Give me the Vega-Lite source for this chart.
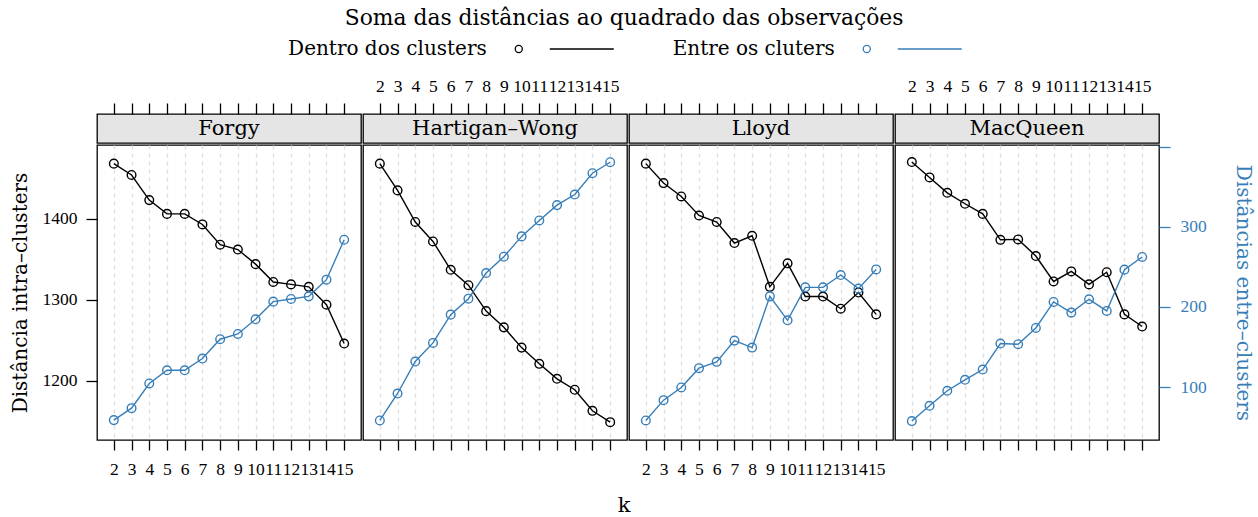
{
  "$schema": "https://vega.github.io/schema/vega-lite/v6.json",
  "padding": {"left": 9, "right": 3, "top": 8, "bottom": 0},
  "config": {
    "font": "DejaVu Serif",
    "view": {"stroke": "black", "strokeWidth": 1.3},
    "axis": {"labelFont": "Liberation Serif", "labelFontSize": 17.5, "titleFont": "DejaVu Serif", "titleFontWeight": "normal", "labelColor": "black", "titleColor": "black", "tickColor": "black"},
    "title": {"font": "DejaVu Serif", "fontWeight": "normal", "fontSize": 21.8, "color": "black"}
  },
  "title": {"text": "Soma das distâncias ao quadrado das observações", "anchor": "middle", "dx": -7},
  "datasets": {
    "km": [
      {"metodo": "Forgy", "k": 2, "intra": 1468, "entre": 58.8},
      {"metodo": "Forgy", "k": 3, "intra": 1454, "entre": 73.7},
      {"metodo": "Forgy", "k": 4, "intra": 1423, "entre": 104.5},
      {"metodo": "Forgy", "k": 5, "intra": 1406, "entre": 121},
      {"metodo": "Forgy", "k": 6, "intra": 1406, "entre": 121},
      {"metodo": "Forgy", "k": 7, "intra": 1393, "entre": 135.6},
      {"metodo": "Forgy", "k": 8, "intra": 1368, "entre": 159.7},
      {"metodo": "Forgy", "k": 9, "intra": 1362, "entre": 166.3},
      {"metodo": "Forgy", "k": 10, "intra": 1344, "entre": 184.6},
      {"metodo": "Forgy", "k": 11, "intra": 1322, "entre": 206.6},
      {"metodo": "Forgy", "k": 12, "intra": 1319, "entre": 209.9},
      {"metodo": "Forgy", "k": 13, "intra": 1316, "entre": 213.2},
      {"metodo": "Forgy", "k": 14, "intra": 1294, "entre": 234},
      {"metodo": "Forgy", "k": 15, "intra": 1246, "entre": 283.8},
      {"metodo": "Hartigan–Wong", "k": 2, "intra": 1468, "entre": 58.4},
      {"metodo": "Hartigan–Wong", "k": 3, "intra": 1435, "entre": 92},
      {"metodo": "Hartigan–Wong", "k": 4, "intra": 1396, "entre": 131.9},
      {"metodo": "Hartigan–Wong", "k": 5, "intra": 1372, "entre": 155.1},
      {"metodo": "Hartigan–Wong", "k": 6, "intra": 1337, "entre": 190.4},
      {"metodo": "Hartigan–Wong", "k": 7, "intra": 1318, "entre": 210.3},
      {"metodo": "Hartigan–Wong", "k": 8, "intra": 1286, "entre": 242.3},
      {"metodo": "Hartigan–Wong", "k": 9, "intra": 1266, "entre": 262.6},
      {"metodo": "Hartigan–Wong", "k": 10, "intra": 1241, "entre": 288},
      {"metodo": "Hartigan–Wong", "k": 11, "intra": 1221, "entre": 307.9},
      {"metodo": "Hartigan–Wong", "k": 12, "intra": 1202.5, "entre": 327},
      {"metodo": "Hartigan–Wong", "k": 13, "intra": 1189, "entre": 340.2},
      {"metodo": "Hartigan–Wong", "k": 14, "intra": 1163, "entre": 366.8},
      {"metodo": "Hartigan–Wong", "k": 15, "intra": 1149, "entre": 380.5},
      {"metodo": "Lloyd", "k": 2, "intra": 1468, "entre": 58.4},
      {"metodo": "Lloyd", "k": 3, "intra": 1444, "entre": 83.7},
      {"metodo": "Lloyd", "k": 4, "intra": 1427.5, "entre": 99.5},
      {"metodo": "Lloyd", "k": 5, "intra": 1404, "entre": 123.6},
      {"metodo": "Lloyd", "k": 6, "intra": 1396, "entre": 131.5},
      {"metodo": "Lloyd", "k": 7, "intra": 1370, "entre": 158},
      {"metodo": "Lloyd", "k": 8, "intra": 1379, "entre": 149.3},
      {"metodo": "Lloyd", "k": 9, "intra": 1316, "entre": 213.2},
      {"metodo": "Lloyd", "k": 10, "intra": 1345, "entre": 183.3},
      {"metodo": "Lloyd", "k": 11, "intra": 1304, "entre": 224.4},
      {"metodo": "Lloyd", "k": 12, "intra": 1304, "entre": 224.4},
      {"metodo": "Lloyd", "k": 13, "intra": 1289, "entre": 239.8},
      {"metodo": "Lloyd", "k": 14, "intra": 1309, "entre": 222.8},
      {"metodo": "Lloyd", "k": 15, "intra": 1282, "entre": 246.8},
      {"metodo": "MacQueen", "k": 2, "intra": 1470, "entre": 57.6},
      {"metodo": "MacQueen", "k": 3, "intra": 1451, "entre": 76.7},
      {"metodo": "MacQueen", "k": 4, "intra": 1432, "entre": 95.4},
      {"metodo": "MacQueen", "k": 5, "intra": 1418.5, "entre": 109.1},
      {"metodo": "MacQueen", "k": 6, "intra": 1406, "entre": 121.9},
      {"metodo": "MacQueen", "k": 7, "intra": 1374, "entre": 154.3},
      {"metodo": "MacQueen", "k": 8, "intra": 1374.5, "entre": 153.5},
      {"metodo": "MacQueen", "k": 9, "intra": 1354, "entre": 173.8},
      {"metodo": "MacQueen", "k": 10, "intra": 1322.6, "entre": 206.2},
      {"metodo": "MacQueen", "k": 11, "intra": 1335, "entre": 192.9},
      {"metodo": "MacQueen", "k": 12, "intra": 1319, "entre": 209.5},
      {"metodo": "MacQueen", "k": 13, "intra": 1334, "entre": 195},
      {"metodo": "MacQueen", "k": 14, "intra": 1282, "entre": 246.5},
      {"metodo": "MacQueen", "k": 15, "intra": 1267, "entre": 262.3}
    ],
    "series": [
      {"serie": "Dentro dos clusters"},
      {"serie": "Entre os cluters"}
    ],
    "eixo": [{"rotulo": "k"}]
  },
  "spacing": 12,
  "vconcat": [
    {
      "width": 1044,
      "height": 30,
      "view": {"stroke": null},
      "data": {"name": "series"},
      "encoding": {
        "x": {"field": "serie", "type": "nominal", "sort": null, "scale": {"type": "point", "padding": 1, "align": 0.606}, "axis": null},
        "color": {"field": "serie", "type": "nominal", "scale": {"domain": ["Dentro dos clusters", "Entre os cluters"], "range": ["black", "#377EB8"]}, "legend": null}
      },
      "layer": [
        {"mark": {"type": "text", "align": "right", "baseline": "middle", "dx": -32, "fontSize": 20, "color": "black"}, "encoding": {"text": {"field": "serie"}, "color": {"value": "black"}}},
        {"mark": {"type": "point", "shape": "circle", "filled": false, "size": 50, "strokeWidth": 1.3, "opacity": 1}},
        {"mark": {"type": "tick", "orient": "horizontal", "size": 64, "thickness": 1.5, "xOffset": 63, "opacity": 1}}
      ]
    },
    {
      "spacing": 0,
      "hconcat": [
        {
          "spacing": 0,
          "vconcat": [
            {
              "width": 264, "height": 29,
              "view": {"fill": "#e5e5e5", "stroke": "black", "strokeWidth": 1.3},
              "data": {"name": "km"},
              "transform": [{"filter": "datum.metodo === 'Forgy'"}],
              "layer": [
                {"mark": {"type": "tick", "opacity": 0}, "encoding": {"x": {"field": "k", "type": "quantitative", "scale": {"domain": [1.05, 15.95]}, "axis": {"orient": "top", "values": [2,3,4,5,6,7,8,9,10,11,12,13,14,15], "labels": false, "tickSize": 11, "tickWidth": 1.3, "domain": false, "grid": false, "title": null}}}},
                {"transform": [{"filter": "datum.k === 2"}], "mark": {"type": "text", "fontSize": 21, "baseline": "middle", "color": "black"}, "encoding": {"text": {"field": "metodo"}}}
              ]
            },
            {
              "width": 264, "height": 295,
              "data": {"name": "km"},
              "transform": [{"filter": "datum.metodo === 'Forgy'"}],
              "encoding": {"x": {"field": "k", "type": "quantitative", "scale": {"domain": [1.05, 15.95]}, "axis": {"orient": "bottom", "values": [2,3,4,5,6,7,8,9,10,11,12,13,14,15], "labelOverlap": false, "labelFlush": false, "labelBound": false, "labelPadding": 10, "tickSize": 10, "tickWidth": 1.3, "domain": false, "grid": true, "gridDash": [4, 4], "gridColor": "#dedede", "gridWidth": 1.3, "title": null}}},
              "layer": [
                {
                  "encoding": {"y": {"field": "intra", "type": "quantitative", "scale": {"domain": [1127, 1491]}, "axis": {"orient": "left", "values": [1200, 1300, 1400], "format": "d", "labelPadding": 9, "tickSize": 11, "tickWidth": 1.3, "domain": false, "grid": false, "title": "Distância intra–clusters", "titleFontSize": 20, "titlePadding": 12}}},
                  "layer": [
                    {"mark": {"type": "line", "color": "black", "strokeWidth": 1.4}},
                    {"mark": {"type": "point", "shape": "circle", "filled": false, "color": "black", "size": 75, "strokeWidth": 1.4, "opacity": 1}}
                  ]
                },
                {
                  "encoding": {"y": {"field": "entre", "type": "quantitative", "scale": {"domain": [34, 402]}, "axis": null}},
                  "layer": [
                    {"mark": {"type": "line", "color": "#377EB8", "strokeWidth": 1.4}},
                    {"mark": {"type": "point", "shape": "circle", "filled": false, "color": "#377EB8", "size": 75, "strokeWidth": 1.4, "opacity": 1}}
                  ]
                }
              ],
              "resolve": {"scale": {"y": "independent"}, "axis": {"y": "independent"}}
            }
          ]
        },
        {
          "spacing": 0,
          "vconcat": [
            {
              "width": 264, "height": 29,
              "view": {"fill": "#e5e5e5", "stroke": "black", "strokeWidth": 1.3},
              "data": {"name": "km"},
              "transform": [{"filter": "datum.metodo === 'Hartigan–Wong'"}],
              "layer": [
                {"mark": {"type": "tick", "opacity": 0}, "encoding": {"x": {"field": "k", "type": "quantitative", "scale": {"domain": [1.05, 15.95]}, "axis": {"orient": "top", "values": [2,3,4,5,6,7,8,9,10,11,12,13,14,15], "labelOverlap": false, "labelFlush": false, "labelBound": false, "labelPadding": 8, "tickSize": 11, "tickWidth": 1.3, "domain": false, "grid": false, "title": null}}}},
                {"transform": [{"filter": "datum.k === 2"}], "mark": {"type": "text", "fontSize": 21, "baseline": "middle", "color": "black"}, "encoding": {"text": {"field": "metodo"}}}
              ]
            },
            {
              "width": 264, "height": 295,
              "data": {"name": "km"},
              "transform": [{"filter": "datum.metodo === 'Hartigan–Wong'"}],
              "encoding": {"x": {"field": "k", "type": "quantitative", "scale": {"domain": [1.05, 15.95]}, "axis": {"orient": "bottom", "values": [2,3,4,5,6,7,8,9,10,11,12,13,14,15], "labels": false, "tickSize": 10, "tickWidth": 1.3, "domain": false, "grid": true, "gridDash": [4, 4], "gridColor": "#dedede", "gridWidth": 1.3, "title": null}}},
              "layer": [
                {
                  "encoding": {"y": {"field": "intra", "type": "quantitative", "scale": {"domain": [1127, 1491]}, "axis": null}},
                  "layer": [
                    {"mark": {"type": "line", "color": "black", "strokeWidth": 1.4}},
                    {"mark": {"type": "point", "shape": "circle", "filled": false, "color": "black", "size": 75, "strokeWidth": 1.4, "opacity": 1}}
                  ]
                },
                {
                  "encoding": {"y": {"field": "entre", "type": "quantitative", "scale": {"domain": [34, 402]}, "axis": null}},
                  "layer": [
                    {"mark": {"type": "line", "color": "#377EB8", "strokeWidth": 1.4}},
                    {"mark": {"type": "point", "shape": "circle", "filled": false, "color": "#377EB8", "size": 75, "strokeWidth": 1.4, "opacity": 1}}
                  ]
                }
              ],
              "resolve": {"scale": {"y": "independent"}, "axis": {"y": "independent"}}
            }
          ]
        },
        {
          "spacing": 0,
          "vconcat": [
            {
              "width": 264, "height": 29,
              "view": {"fill": "#e5e5e5", "stroke": "black", "strokeWidth": 1.3},
              "data": {"name": "km"},
              "transform": [{"filter": "datum.metodo === 'Lloyd'"}],
              "layer": [
                {"mark": {"type": "tick", "opacity": 0}, "encoding": {"x": {"field": "k", "type": "quantitative", "scale": {"domain": [1.05, 15.95]}, "axis": {"orient": "top", "values": [2,3,4,5,6,7,8,9,10,11,12,13,14,15], "labels": false, "tickSize": 11, "tickWidth": 1.3, "domain": false, "grid": false, "title": null}}}},
                {"transform": [{"filter": "datum.k === 2"}], "mark": {"type": "text", "fontSize": 21, "baseline": "middle", "color": "black"}, "encoding": {"text": {"field": "metodo"}}}
              ]
            },
            {
              "width": 264, "height": 295,
              "data": {"name": "km"},
              "transform": [{"filter": "datum.metodo === 'Lloyd'"}],
              "encoding": {"x": {"field": "k", "type": "quantitative", "scale": {"domain": [1.05, 15.95]}, "axis": {"orient": "bottom", "values": [2,3,4,5,6,7,8,9,10,11,12,13,14,15], "labelOverlap": false, "labelFlush": false, "labelBound": false, "labelPadding": 10, "tickSize": 10, "tickWidth": 1.3, "domain": false, "grid": true, "gridDash": [4, 4], "gridColor": "#dedede", "gridWidth": 1.3, "title": null}}},
              "layer": [
                {
                  "encoding": {"y": {"field": "intra", "type": "quantitative", "scale": {"domain": [1127, 1491]}, "axis": null}},
                  "layer": [
                    {"mark": {"type": "line", "color": "black", "strokeWidth": 1.4}},
                    {"mark": {"type": "point", "shape": "circle", "filled": false, "color": "black", "size": 75, "strokeWidth": 1.4, "opacity": 1}}
                  ]
                },
                {
                  "encoding": {"y": {"field": "entre", "type": "quantitative", "scale": {"domain": [34, 402]}, "axis": null}},
                  "layer": [
                    {"mark": {"type": "line", "color": "#377EB8", "strokeWidth": 1.4}},
                    {"mark": {"type": "point", "shape": "circle", "filled": false, "color": "#377EB8", "size": 75, "strokeWidth": 1.4, "opacity": 1}}
                  ]
                }
              ],
              "resolve": {"scale": {"y": "independent"}, "axis": {"y": "independent"}}
            }
          ]
        },
        {
          "spacing": 0,
          "vconcat": [
            {
              "width": 264, "height": 29,
              "view": {"fill": "#e5e5e5", "stroke": "black", "strokeWidth": 1.3},
              "data": {"name": "km"},
              "transform": [{"filter": "datum.metodo === 'MacQueen'"}],
              "layer": [
                {"mark": {"type": "tick", "opacity": 0}, "encoding": {"x": {"field": "k", "type": "quantitative", "scale": {"domain": [1.05, 15.95]}, "axis": {"orient": "top", "values": [2,3,4,5,6,7,8,9,10,11,12,13,14,15], "labelOverlap": false, "labelFlush": false, "labelBound": false, "labelPadding": 8, "tickSize": 11, "tickWidth": 1.3, "domain": false, "grid": false, "title": null}}}},
                {"transform": [{"filter": "datum.k === 2"}], "mark": {"type": "text", "fontSize": 21, "baseline": "middle", "color": "black"}, "encoding": {"text": {"field": "metodo"}}}
              ]
            },
            {
              "width": 264, "height": 295,
              "data": {"name": "km"},
              "transform": [{"filter": "datum.metodo === 'MacQueen'"}],
              "encoding": {"x": {"field": "k", "type": "quantitative", "scale": {"domain": [1.05, 15.95]}, "axis": {"orient": "bottom", "values": [2,3,4,5,6,7,8,9,10,11,12,13,14,15], "labels": false, "tickSize": 10, "tickWidth": 1.3, "domain": false, "grid": true, "gridDash": [4, 4], "gridColor": "#dedede", "gridWidth": 1.3, "title": null}}},
              "layer": [
                {
                  "encoding": {"y": {"field": "intra", "type": "quantitative", "scale": {"domain": [1127, 1491]}, "axis": null}},
                  "layer": [
                    {"mark": {"type": "line", "color": "black", "strokeWidth": 1.4}},
                    {"mark": {"type": "point", "shape": "circle", "filled": false, "color": "black", "size": 75, "strokeWidth": 1.4, "opacity": 1}}
                  ]
                },
                {
                  "encoding": {"y": {"field": "entre", "type": "quantitative", "scale": {"domain": [34, 402]}, "axis": {"orient": "right", "values": [100, 200, 300, 400], "labelExpr": "datum.value === 400 ? '' : datum.label", "labelPadding": 10, "labelColor": "#377EB8", "tickColor": "#377EB8", "tickSize": 11, "tickWidth": 1.3, "domain": false, "grid": false, "title": "Distâncias entre–clusters", "titleFontSize": 20, "titleColor": "#377EB8", "titlePadding": 26}}},
                  "layer": [
                    {"mark": {"type": "line", "color": "#377EB8", "strokeWidth": 1.4}},
                    {"mark": {"type": "point", "shape": "circle", "filled": false, "color": "#377EB8", "size": 75, "strokeWidth": 1.4, "opacity": 1}}
                  ]
                }
              ],
              "resolve": {"scale": {"y": "independent"}, "axis": {"y": "independent"}}
            }
          ]
        }
      ]
    },
    {
      "width": 1054,
      "height": 26,
      "view": {"stroke": null},
      "data": {"name": "eixo"},
      "mark": {"type": "text", "fontSize": 21, "baseline": "middle", "dy": 2, "color": "black"},
      "encoding": {"text": {"field": "rotulo"}}
    }
  ]
}
